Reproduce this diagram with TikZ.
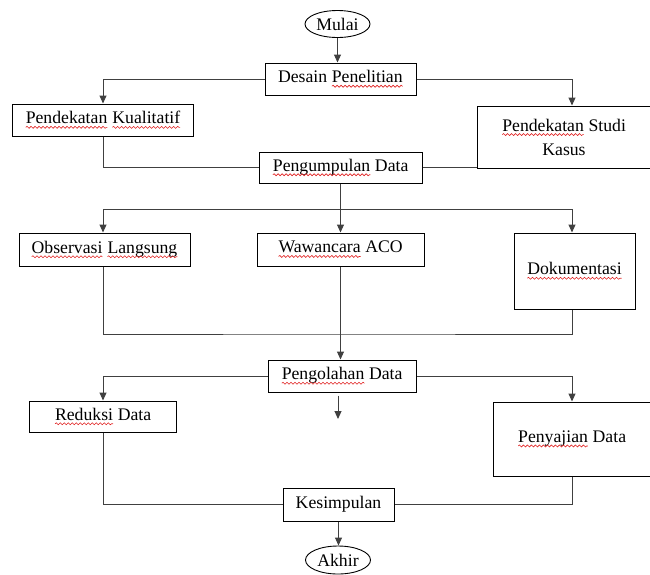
\documentclass[tikz,border=0pt]{standalone}
\usepackage{fontspec}
\setmainfont{Liberation Serif}
\usepackage{xcolor}
\usetikzlibrary{shapes.geometric,arrows.meta,decorations.pathmorphing}
\definecolor{lngrey}{HTML}{404040}
\definecolor{spellred}{HTML}{E02020}
\tikzset{spword/.style={shape=rectangle,draw=none,fill=none,inner sep=0pt,outer sep=0pt,
  minimum width=0pt,minimum height=0pt,align=left}}
\newcommand\spl[1]{\tikz[baseline=(sw.base)]{\node[spword] (sw) {#1};
  \draw[spellred,line width=0.6pt,decorate,decoration={snake,amplitude=1pt,segment length=4pt}]
    ([yshift=-3.5pt]sw.base west) -- ([yshift=-3.5pt]sw.base east);}}

\begin{document}
\begin{tikzpicture}[x=1pt,y=-1pt,
  blk/.style={draw=black,line width=1pt,inner sep=0pt,align=center,
              font=\fontsize{17.7}{24}\selectfont},
  term/.style={ellipse,draw=black,line width=0.9pt,inner sep=0pt,
               minimum width=65pt,minimum height=27pt,
               font=\fontsize{17.7}{24}\selectfont},
  arr/.style={draw=lngrey,line width=1pt,-{Triangle[length=8pt,width=7pt]}},
  lnk/.style={draw=lngrey,line width=1pt}]
\useasboundingbox (0,0) rectangle (650,574);
\clip (0,0) rectangle (650,574);
\coordinate (L) at (103,0);
\coordinate (R) at (572,0);
% nodes
\node[term] (mulai) at (337.5,24) {Mulai};
\node[blk,minimum width=151pt,minimum height=32pt] (desain) at (340.5,79) {Desain \spl{Penelitian}};
\node[blk,minimum width=181pt,minimum height=32pt] (kual) at (103,120) {\spl{Pendekatan} \spl{Kualitatif}};
\node[blk,minimum width=174pt,minimum height=62pt] (studi) at (564,137) {\spl{Pendekatan} Studi\\Kasus};
\node[blk,minimum width=163pt,minimum height=31pt] (kumpul) at (340.5,167.5) {\spl{Pengumpulan} Data};
\node[blk,minimum width=171pt,minimum height=33pt] (obs) at (104.5,249.5) {\spl{Observasi} \spl{Langsung}};
\node[blk,minimum width=167pt,minimum height=33pt] (waw) at (340.5,249.5) {\spl{Wawancara} ACO};
\node[blk,minimum width=121pt,minimum height=76pt] (dok) at (574.5,271) {\spl{Dokumentasi}};
\node[blk,minimum width=148pt,minimum height=32pt] (olah) at (342,376) {\spl{Pengolahan} Data};
\node[blk,minimum width=147pt,minimum height=31pt] (red) at (103,416.5) {\spl{Reduksi} Data};
\node[blk,minimum width=158pt,minimum height=74pt] (saji) at (572,439) {\spl{Penyajian} Data};
\node[blk,minimum width=111pt,minimum height=33pt] (kes) at (338.5,504.5) {Kesimpulan};
\node[term,minimum height=28pt] (akhir) at (338,560) {Akhir};
% connectors
\draw[arr] (mulai) -- (mulai |- desain.north);
\draw[arr] (desain.west) -| (kual.north);
\draw[arr] (desain.east) -| (studi.north -| R);
\draw[lnk] (kual.south) |- (kumpul.west);
\draw[lnk] (kumpul.east) -- (kumpul.east -| studi.west);
\coordinate (s1) at (340.5,209);
\draw[arr] (kumpul.south) -- (waw.north);
\draw[arr] (s1) -| (obs.north -| L);
\draw[arr] (s1) -| (dok.north -| R);
\coordinate (s2) at (340.5,334);
\draw[lnk] (obs.south -| L) |- (s2) -| (dok.south -| R);
\draw[arr] (waw.south) -- (olah.north -| waw.south);
\draw[arr] (olah.west) -| (red.north);
\draw[arr] (olah.east) -| (saji.north -| R);
\coordinate (stray) at (338,419);
\draw[arr] ([yshift=-3pt]olah.south -| stray) -- (stray);
\draw[lnk] (red.south) |- (kes.west);
\draw[lnk] (saji.south -| R) |- (kes.east);
\draw[arr] (kes.south) -- (akhir.north -| kes.south);
\end{tikzpicture}
\end{document}
